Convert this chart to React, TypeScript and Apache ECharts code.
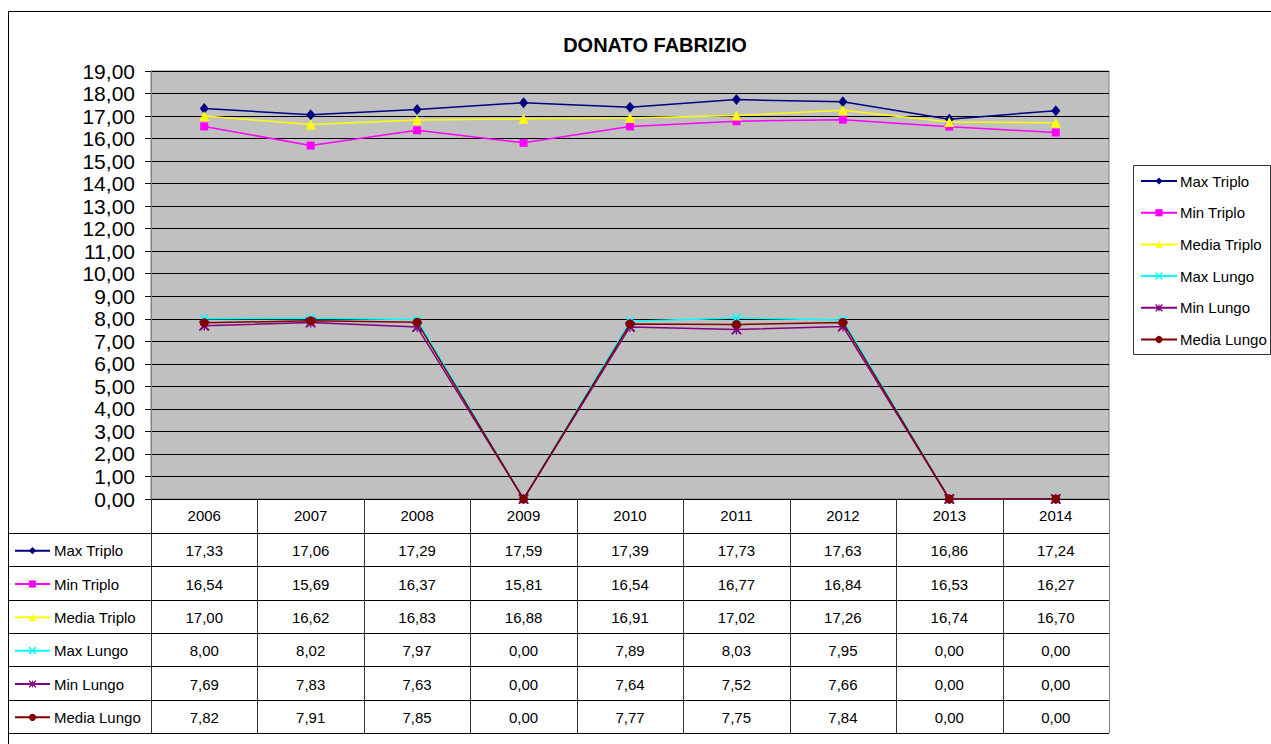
import React, { useEffect, useRef } from "react";
import * as echarts from "echarts";

const title = "DONATO FABRIZIO";
const years = ["2006", "2007", "2008", "2009", "2010", "2011", "2012", "2013", "2014"];
const seriesNames = ["Max Triplo", "Min Triplo", "Media Triplo", "Max Lungo", "Min Lungo", "Media Lungo"];
const maxTriplo = [17.33, 17.06, 17.29, 17.59, 17.39, 17.73, 17.63, 16.86, 17.24];
const minTriplo = [16.54, 15.69, 16.37, 15.81, 16.54, 16.77, 16.84, 16.53, 16.27];
const mediaTriplo = [17.0, 16.62, 16.83, 16.88, 16.91, 17.02, 17.26, 16.74, 16.7];
const maxLungo = [8.0, 8.02, 7.97, 0.0, 7.89, 8.03, 7.95, 0.0, 0.0];
const minLungo = [7.69, 7.83, 7.63, 0.0, 7.64, 7.52, 7.66, 0.0, 0.0];
const mediaLungo = [7.82, 7.91, 7.85, 0.0, 7.77, 7.75, 7.84, 0.0, 0.0];
const allValues = [maxTriplo, minTriplo, mediaTriplo, maxLungo, minLungo, mediaLungo];

const colors = ["#000080", "#FF00FF", "#FFFF00", "#00FFFF", "#800080", "#800000"];

const xPath =
  "path://M0,0 L1.4,0 L5,3.6 L8.6,0 L10,0 L10,1.4 L6.4,5 L10,8.6 L10,10 L8.6,10 L5,6.4 L1.4,10 L0,10 L0,8.6 L3.6,5 L0,1.4 Z";
const starPath =
  "path://M0,0 L1.4,0 L5,3.6 L8.6,0 L10,0 L10,1.4 L6.4,5 L10,8.6 L10,10 L8.6,10 L5,6.4 L1.4,10 L0,10 L0,8.6 L3.6,5 L0,1.4 Z M4.4,0 L5.6,0 L5.6,10 L4.4,10 Z";
const symbols: any[] = ["diamond", "rect", "triangle", xPath, starPath, "circle"];
const symbolSizes: any[] = [[9, 11], 8, 10, 9, 10, 9];

const FONT = "'Liberation Sans', Arial, sans-serif";

const W = 1271;
const H = 744;
const plotLeft = 151;
const plotRight = 1109;
const plotTop = 71;
const plotBottom = 499;
const headerBottom = 533;
const tableBottom = 733;
const tableLeft = 8;

const fmt = (v: number) => v.toFixed(2).replace(".", ",");

export default function App() {
  const ref = useRef<HTMLDivElement>(null);
  useEffect(() => {
    if (!ref.current) return;
    const chart = echarts.init(ref.current, undefined, { renderer: "svg" });
    const colW = (plotRight - plotLeft) / years.length;
    const rowH = (tableBottom - headerBottom) / seriesNames.length;

    const graphics: any[] = [];
    graphics.push({
      type: "rect",
      shape: { x: 8.5, y: 11.5, width: 1400, height: 900 },
      style: { fill: "none", stroke: "#000", lineWidth: 1 },
      silent: true,
      z: 0,
    });
    graphics.push({
      type: "rect",
      shape: { x: 1133.5, y: 165.5, width: 137, height: 189 },
      style: { fill: "#fff", stroke: "#333", lineWidth: 1 },
      silent: true,
      z: 0,
    });
    for (let r = 0; r <= seriesNames.length; r++) {
      const y = Math.round(headerBottom + r * rowH) + 0.5;
      graphics.push({
        type: "line",
        shape: { x1: tableLeft, y1: y, x2: plotRight, y2: y },
        style: { stroke: "#000", lineWidth: 1 },
        silent: true,
        z: 1,
      });
    }
    for (let c = 0; c <= years.length; c++) {
      const x = Math.round(plotLeft + c * colW) + 0.5;
      graphics.push({
        type: "line",
        shape: { x1: x, y1: plotBottom, x2: x, y2: tableBottom },
        style: { stroke: c === years.length ? "#808080" : "#333", lineWidth: 1 },
        silent: true,
        z: 1,
      });
    }
    allValues.forEach((vals, i) => {
      vals.forEach((v, j) => {
        graphics.push({
          type: "text",
          x: plotLeft + colW * (j + 0.5),
          y: headerBottom + rowH * (i + 0.5) + 1,
          style: {
            text: fmt(v),
            fontSize: 15,
            fontFamily: FONT,
            fill: "#000",
            textAlign: "center",
            textVerticalAlign: "middle",
          },
          silent: true,
          z: 2,
        });
      });
    });

    const option: any = {
      animation: false,
      backgroundColor: "#fff",
      textStyle: { fontFamily: FONT },
      title: {
        text: title,
        left: 650,
        top: 30,
        textAlign: "center",
        textStyle: { fontSize: 20, fontWeight: "bold", color: "#000", fontFamily: FONT },
      },
      grid: {
        left: plotLeft,
        top: plotTop,
        width: plotRight - plotLeft,
        height: plotBottom - plotTop,
        show: true,
        backgroundColor: "#C0C0C0",
        borderColor: "#808080",
        borderWidth: 1,
      },
      legend: [
        {
          orient: "vertical",
          left: 1140,
          top: 173,
          padding: 0,
          itemWidth: 36,
          itemHeight: 9,
          itemGap: 15.7,
          selectedMode: false,
          data: seriesNames,
          textStyle: { fontSize: 15, color: "#000", fontFamily: FONT, lineHeight: 16, padding: [0, 0, 0, -2] },
        },
        {
          orient: "vertical",
          left: 14,
          top: headerBottom + rowH / 2 - 8 + 1,
          padding: 0,
          itemWidth: 35,
          itemHeight: 9,
          itemGap: rowH - 16,
          selectedMode: false,
          data: seriesNames,
          textStyle: { fontSize: 15, color: "#000", fontFamily: FONT, lineHeight: 16, padding: [0, 0, 0, -1] },
        },
      ],
      xAxis: {
        type: "category",
        data: years,
        boundaryGap: true,
        axisLine: { show: true, lineStyle: { color: "#000", width: 1 } },
        axisTick: { show: false },
        axisLabel: { fontSize: 15, color: "#000", margin: 9, fontFamily: FONT },
        splitLine: { show: false },
      },
      yAxis: {
        type: "value",
        min: 0,
        max: 19,
        interval: 1,
        axisLine: { show: true, lineStyle: { color: "#808080", width: 1 } },
        axisTick: { show: true, inside: false, length: 6, lineStyle: { color: "#000" } },
        axisLabel: {
          fontSize: 21,
          color: "#000",
          margin: 16,
          fontFamily: FONT,
          formatter: (v: number) => fmt(v),
        },
        splitLine: { show: true, lineStyle: { color: "#000", width: 1 } },
      },
      series: seriesNames.map((name, i) => ({
        name,
        type: "line",
        data: allValues[i],
        symbol: symbols[i],
        symbolSize: symbolSizes[i],
        showAllSymbol: true,
        lineStyle: { color: colors[i], width: 1.5 },
        itemStyle: { color: colors[i] },
        z: 3 + i,
      })),
      graphic: graphics,
    };
    chart.setOption(option);
    return () => chart.dispose();
  }, []);
  return (
    <div
      ref={ref}
      style={{ position: "fixed", left: 0, top: 0, width: W, height: H }}
    />
  );
}
